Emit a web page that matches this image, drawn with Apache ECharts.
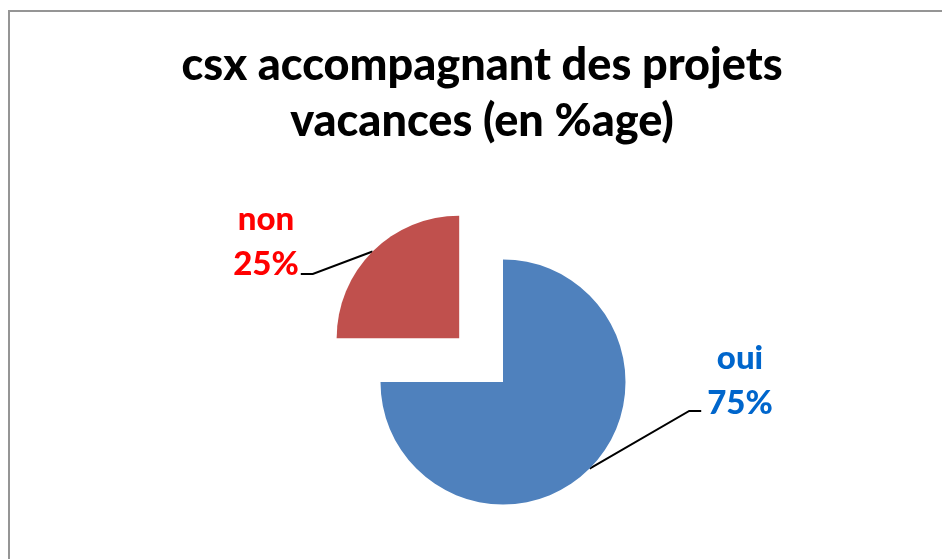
<!DOCTYPE html>
<html>
<head>
<meta charset="utf-8">
<script src="https://cdn.jsdelivr.net/npm/echarts@6/dist/echarts.min.js"></script>
<style>
html,body{margin:0;padding:0;background:#fff;}
#chart{width:942px;height:559px;}
</style>
</head>
<body>
<div id="chart"></div>
<script>
// ---- data ----
const titleLines = ['csx accompagnant des projets', 'vacances (en %age)'];
const categories = ['oui', 'non'];
const values = [75, 25];
const explodedCategory = 'non';

// ---- styles ----
const sliceColors = ['#4F81BD', '#C0504D'];
const labelColors = ['#0066CC', '#FF0000'];
const FONT = 'Lato, "Open Sans", sans-serif';
const PIE_CENTER = [503, 382];
const PIE_RADIUS = 122.5;
const EXPLODE_DIST = 62;

// direction of the exploded slice (pie starts at 12 o'clock, clockwise)
const total = values.reduce((a, b) => a + b, 0);
const exIdx = categories.indexOf(explodedCategory);
const before = values.slice(0, exIdx).reduce((a, b) => a + b, 0);
const midFrac = (before + values[exIdx] / 2) / total;
const midAng = midFrac * 2 * Math.PI;
const exDx = Math.sin(midAng) * EXPLODE_DIST;
const exDy = -Math.cos(midAng) * EXPLODE_DIST;

// label placements (centre of the text block) per category
const labelPlace = {
  oui: {x: 740, y: 381, side: 'right'},
  non: {x: 266, y: 242, side: 'left'}
};

const chart = echarts.init(document.getElementById('chart'), null, {renderer: 'canvas'});

function buildData(showExploded) {
  return categories.map((c, i) => {
    const visible = (c === explodedCategory) === showExploded;
    return {
      name: c,
      value: values[i],
      itemStyle: {color: visible ? sliceColors[i] : 'rgba(0,0,0,0)'},
      label: {show: visible, color: labelColors[i]},
      labelLine: {show: visible}
    };
  });
}

function labelLayout(params) {
  const name = categories[params.dataIndex];
  const p = labelPlace[name];
  if (!p || !params.labelRect) return {};
  const w = params.labelRect.width;
  const out = {x: p.x, y: p.y, align: 'center', verticalAlign: 'middle'};
  const start = params.labelLinePoints ? params.labelLinePoints[0] : null;
  if (start) {
    if (p.side === 'left') {
      const end = [p.x + w / 2 + 2, p.y + 32];
      out.labelLinePoints = [start, [end[0] + 12, end[1]], end];
    } else {
      const end = [p.x - w / 2 - 6, p.y + 30];
      out.labelLinePoints = [start, [end[0] - 12, end[1]], end];
    }
  }
  return out;
}

const commonSeries = {
  type: 'pie',
  radius: PIE_RADIUS,
  startAngle: 90,
  clockwise: true,
  avoidLabelOverlap: false,
  emphasis: {disabled: true},
  silent: true,
  label: {
    position: 'outside',
    formatter: '{b}\n{d}%',
    fontFamily: FONT,
    fontWeight: 900,
    fontSize: 33,
    lineHeight: 45,
    align: 'center'
  },
  labelLine: {
    length: 20,
    length2: 12,
    lineStyle: {color: '#000', width: 2}
  },
  labelLayout: labelLayout
};

chart.setOption({
  animation: false,
  backgroundColor: '#fff',
  graphic: [{
    type: 'rect',
    shape: {x: 9, y: 11, width: 1000, height: 600},
    style: {fill: 'none', stroke: '#959595', lineWidth: 2},
    silent: true, z: -1
  }],
  title: {
    text: titleLines.join('\n'),
    left: 482,
    textAlign: 'center',
    top: 37,
    padding: 0,
    textStyle: {
      fontFamily: FONT,
      fontWeight: 900,
      fontSize: 45,
      lineHeight: 56,
      color: '#000'
    }
  },
  series: [
    Object.assign({}, commonSeries, {
      name: 'main',
      center: PIE_CENTER,
      data: buildData(false)
    }),
    Object.assign({}, commonSeries, {
      name: 'exploded',
      center: [PIE_CENTER[0] + exDx, PIE_CENTER[1] + exDy],
      data: buildData(true)
    })
  ]
});
</script>
</body>
</html>
